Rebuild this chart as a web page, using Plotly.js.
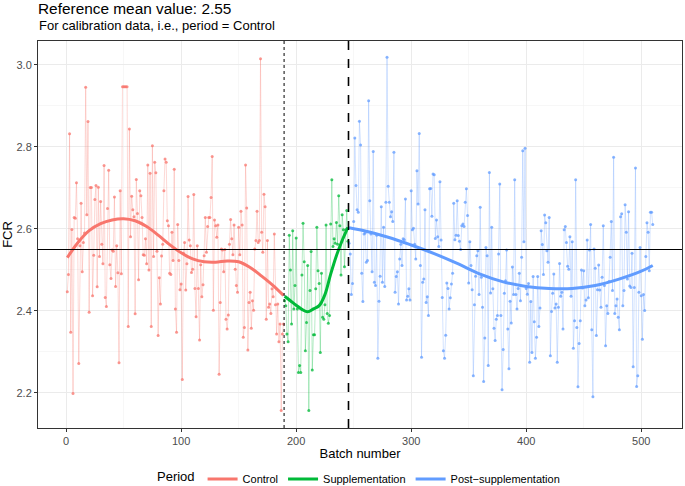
<!DOCTYPE html>
<html><head><meta charset="utf-8">
<script src="https://cdn.plot.ly/plotly-3.0.1.min.js"></script>
<style>html,body{margin:0;padding:0;background:#fff}#chart{width:685px;height:486px}</style>
</head><body><div id="chart"></div><script>
// Period names and colours
const periods = ['Control', 'Supplementation', 'Post\u2212supplementation'];
const periodColors = ['#F8766D', '#00BA38', '#619CFF'];
const referenceMean = 2.55;
const controlEnd = 189.5;
const supplementationEnd = 245.5;

// FCR per batch, batches numbered consecutively from 1
const controlFCR = [
2.447,2.489,2.832,2.348,2.599,2.199,2.628,2.626,2.713,2.576,
2.272,2.559,2.663,2.496,2.567,2.59,2.946,2.635,2.862,2.397,
2.701,2.701,2.437,2.536,2.672,2.706,2.459,2.702,2.533,2.667,
2.563,2.515,2.755,2.433,2.411,2.65,2.743,2.513,2.479,2.549,
2.546,2.678,2.46,2.559,2.493,2.274,2.693,2.491,2.947,2.947,
2.947,2.947,2.947,2.362,2.844,2.581,2.68,2.647,2.63,2.393,
2.721,2.638,2.476,2.693,
2.681,2.628,2.537,2.536,2.576,2.515,2.756,2.5,2.736,2.362,
2.803,2.533,2.763,2.737,2.546,2.34,2.481,2.417,2.534,2.563,
2.693,2.771,2.763,2.62,2.608,2.492,2.489,2.592,2.523,2.746,
2.405,2.348,2.611,2.523,2.452,2.466,2.233,2.541,2.567,2.451,
2.515,2.679,2.573,2.559,2.494,2.502,2.684,2.455,2.386,2.559,
2.455,2.329,2.513,2.435,2.464,2.535,2.628,2.543,2.606,2.628,
2.628,2.677,2.777,2.402,2.622,2.608,2.58,2.61,2.246,2.421,
2.551,2.549,2.496,2.55,2.38,2.356,2.39,2.563,2.623,2.576,
2.537,2.61,2.502,2.462,2.446,2.604,2.537,2.643,2.61,2.336,
2.36,2.756,2.651,2.305,2.421,2.446,2.358,2.425,2.402,2.551,
2.572,2.643,2.567,2.572,3.015,2.592,2.543,2.685,2.654,2.38,
2.572,2.409,2.417,2.394,2.454,2.435,2.588,2.415,2.344,2.417,
2.325,2.368,2.157,2.344,2.368
];
const supplementationFCR = [
2.425,2.413,2.344,2.325,2.585,2.5,2.368,2.596,2.405,2.462,2.578,2.405,2.25,2.267,
2.25,2.488,2.614,2.52,2.303,2.372,2.511,2.157,2.45,2.545,
2.256,2.342,2.342,2.454,2.604,2.498,2.467,2.299,2.492,2.385,
2.38,2.415,2.61,2.394,2.37,2.389,2.612,2.72,2.557,2.576,
2.565,2.616,2.563,2.681,2.608,2.488,2.635,2.598,2.508,2.598,
2.645,2.57
];
const postFCR = [
2.565,2.539,2.44,2.467,2.618,2.822,2.706,2.647,2.641,2.863,
2.805,2.492,2.423,2.588,2.59,2.519,2.523,2.913,2.669,2.588,
2.496,2.789,2.47,2.462,2.585,2.285,2.424,
2.485,2.654,2.47,2.604,2.46,2.665,3.019,2.704,2.665,2.63,
2.642,2.618,2.787,2.446,2.484,2.496,2.417,2.527,2.563,2.511,
2.576,2.574,2.673,2.427,2.436,2.454,2.427,2.693,2.598,2.602,
2.563,2.527,2.742,2.661,2.833,2.511,2.287,2.47,2.478,2.647,
2.421,2.435,2.389,2.698,2.699,2.631,2.734,2.732,2.577,2.622,
2.581,2.557,2.715,2.573,2.433,2.303,2.285,2.341,2.468,2.455,
2.405,2.432,2.466,2.492,2.663,2.574,2.585,2.669,
2.584,2.57,2.55,2.608,2.612,2.606,2.665,2.698,2.633,2.468,
2.569,2.511,2.452,2.242,2.415,2.485,2.535,2.547,2.44,2.653,
2.482,2.409,2.228,2.334,2.555,2.535,2.267,2.738,2.444,2.604,
2.454,2.358,2.328,2.38,2.389,2.539,2.71,2.389,2.208,2.306,
2.443,2.474,2.549,2.356,2.259,2.424,2.371,2.507,2.44,2.72,
2.44,2.405,2.455,2.492,2.425,2.531,2.791,2.569,2.797,2.455,
2.441,2.467,2.275,2.423,2.299,2.484,2.374,2.285,2.336,2.484,
2.362,2.407,2.596,2.562,2.489,2.634,2.615,2.547,2.519,2.628,
2.291,2.399,2.443,2.49,2.407,2.417,2.275,2.409,2.516,2.436,
2.446,2.356,2.598,2.606,2.567,2.509,2.502,2.581,2.436,2.569,
2.309,2.376,2.72,2.36,2.215,2.321,2.376,2.5,2.456,2.498,
2.413,2.427,2.573,2.432,2.549,2.611,2.354,2.191,2.551,2.504,
2.34,2.452,2.512,2.451,2.409,2.482,2.608,2.462,2.315,2.413,
2.394,2.472,2.531,2.618,2.45,2.775,2.394,2.413,2.429,
2.385,2.354,2.63,2.637,2.413,2.45,2.659,2.592,2.478,2.642,
2.461,2.457,2.541,2.264,2.457,2.749,2.216,2.242,2.446,2.555,
2.437,2.331,2.44,2.401,2.533,2.615,2.592,2.498,2.641,2.641,
2.611
];

// Smoothed trend per period
const controlSmoothX = [1,10,20,30,40,50,60,70,80,90,100,110,120,130,140,150,160,170,180,189];
const controlSmoothY = [2.530,2.566,2.596,2.613,2.622,2.625,2.620,2.606,2.585,2.562,2.542,2.527,2.520,2.519,2.522,2.520,2.506,2.485,2.462,2.438];
const suppSmoothX = [190,195,200,205,210,215,220,225,230,235,240,245];
const suppSmoothY = [2.436,2.425,2.414,2.404,2.398,2.405,2.413,2.44,2.49,2.535,2.572,2.604];
const postSmoothX = [246,260,280,300,320,340,360,380,400,420,440,460,480,500,510];
const postSmoothY = [2.603,2.595,2.580,2.561,2.540,2.516,2.490,2.471,2.460,2.455,2.455,2.462,2.477,2.497,2.511];

const xTicks = [0,100,200,300,400,500];
const yTicks = [2.2,2.4,2.6,2.8,3.0];

const rawSeries = [controlFCR, supplementationFCR, postFCR];
const smoothSeries = [[controlSmoothX, controlSmoothY],[suppSmoothX, suppSmoothY],[postSmoothX, postSmoothY]];

function rgba(hex, a){
  const n = parseInt(hex.slice(1),16);
  return 'rgba('+((n>>16)&255)+','+((n>>8)&255)+','+(n&255)+','+a+')';
}

const traces = [];
let start = 1;
rawSeries.forEach((vals, k) => {
  const xs = vals.map((_, i) => start + i);
  start += vals.length;
  traces.push({
    x: xs, y: vals, type: 'scatter', mode: 'lines+markers',
    line: {color: rgba(periodColors[k], 0.28), width: 1},
    marker: {color: rgba(periodColors[k], 0.75), size: 3},
    showlegend: false, legendgroup: periods[k], hoverinfo: 'x+y'
  });
});
smoothSeries.forEach((s, k) => {
  traces.push({
    x: s[0], y: s[1], type: 'scatter', mode: 'lines', name: periods[k],
    line: {color: periodColors[k], width: 3, shape: 'spline'},
    legendgroup: periods[k]
  });
});

const fontFam = 'Liberation Sans, Arial, sans-serif';
const layout = {
  width: 685, height: 486,
  margin: {l: 38, r: 3, t: 41, b: 58, autoexpand: false},
  paper_bgcolor: '#FFFFFF', plot_bgcolor: '#FFFFFF',
  font: {family: fontFam, color: '#000000'},
  title: {text: 'Reference mean value: ' + referenceMean.toFixed(2), xref: 'paper', x: 0, xanchor: 'left',
          yref: 'container', y: 1 - 8.5/486, yanchor: 'middle', font: {size: 15.4, color: '#000'}},
  annotations: [{
    text: 'For calibration data, i.e., period = Control', xref: 'paper', yref: 'paper',
    x: -0.002, y: 1 + 16/387, xanchor: 'left', yanchor: 'middle', showarrow: false,
    font: {size: 13, color: '#000'}
  }],
  xaxis: {
    range: [-24.45, 535.45], tickmode: 'array', tickvals: xTicks, ticktext: xTicks.map(String),
    ticks: 'outside', ticklen: 3, tickcolor: '#333333', tickwidth: 1,
    showline: true, mirror: true, linecolor: '#333333', linewidth: 1,
    showgrid: true, gridcolor: '#EBEBEB', gridwidth: 1, zeroline: false,
    minor: {tickvals: [50,150,250,350,450], showgrid: true, gridcolor: '#F2F2F2', gridwidth: 0.6, ticks: ''},
    tickfont: {size: 11, color: '#4D4D4D'},
    title: {text: 'Batch number', font: {size: 13, color: '#000'}, standoff: 2}
  },
  yaxis: {
    range: [2.1146, 3.0585], tickmode: 'array', tickvals: yTicks, ticktext: yTicks.map(v => v.toFixed(1)),
    ticks: 'outside', ticklen: 3, tickcolor: '#333333', tickwidth: 1,
    showline: true, mirror: true, linecolor: '#333333', linewidth: 1,
    showgrid: true, gridcolor: '#EBEBEB', gridwidth: 1, zeroline: false,
    minor: {tickvals: [2.3,2.5,2.7,2.9], showgrid: true, gridcolor: '#F2F2F2', gridwidth: 0.6, ticks: ''},
    tickfont: {size: 11, color: '#4D4D4D'},
    title: {text: 'FCR', font: {size: 13, color: '#000'}, standoff: 4}
  },
  legend: {
    orientation: 'h', x: 0.5, xanchor: 'center', y: -51/387, yanchor: 'middle',
    title: {text: 'Period', font: {size: 13}}, font: {size: 11},
    traceorder: 'normal', itemwidth: 30
  },
  shapes: [
    {type: 'line', xref: 'paper', x0: 0, x1: 1, yref: 'y', y0: referenceMean, y1: referenceMean,
     line: {color: '#000000', width: 1.2}},
    {type: 'line', xref: 'x', x0: controlEnd, x1: controlEnd, yref: 'paper', y0: 0, y1: 1,
     line: {color: '#000000', width: 1, dash: 'dot'}},
    {type: 'line', xref: 'x', x0: supplementationEnd, x1: supplementationEnd, yref: 'paper', y0: 0, y1: 1,
     line: {color: '#000000', width: 1.6, dash: 'dash'}}
  ]
};
Plotly.newPlot('chart', traces, layout, {displayModeBar: false, staticPlot: true});
</script></body></html>
